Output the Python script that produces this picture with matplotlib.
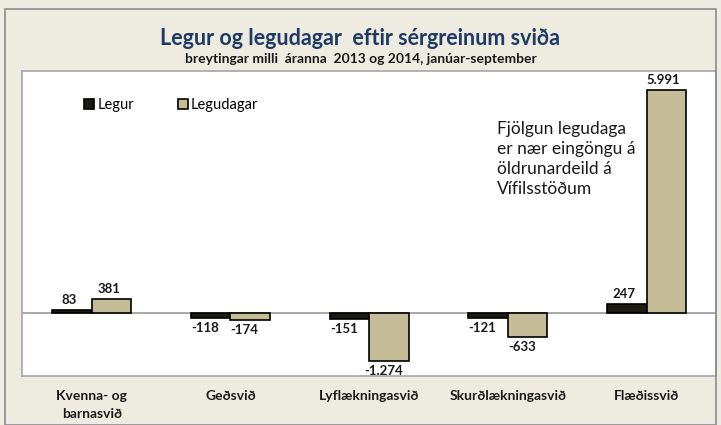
import matplotlib.pyplot as plt
import numpy as np
from matplotlib.patches import Rectangle

plt.rcParams['font.family'] = ['Lato', 'DejaVu Sans']

# Data
categories = ['Kvenna- og\nbarnasvið', 'Geðsvið', 'Lyflækningasvið',
              'Skurðlækningasvið', 'Flæðissvið']
legur = [83, -118, -151, -121, 247]
legudagar = [381, -174, -1274, -633, 5991]
legur_labels = ['83', '-118', '-151', '-121', '247']
legudagar_labels = ['381', '-174', '-1.274', '-633', '5.991']

bg = '#EEECE1'
col_legur = '#1D1B10'
col_legudagar = '#C4BD97'

fig = plt.figure(figsize=(7.21, 4.25), dpi=100, facecolor=bg)
# outer chart border
fig.patches.append(Rectangle((0.007, 0.0), 0.986, 0.98, transform=fig.transFigure,
                             fill=False, edgecolor='#8C8C8C', linewidth=1.2))

ax = fig.add_axes([0.031, 0.115, 0.962, 0.718])
ax.set_facecolor('white')
for s in ax.spines.values():
    s.set_color('#A6A6A6')
    s.set_linewidth(1.2)

x = np.arange(len(categories))
w = 0.285
ax.bar(x - w / 2, legur, w, color=col_legur, edgecolor='black', linewidth=1.2, label='Legur')
ax.bar(x + w / 2, legudagar, w, color=col_legudagar, edgecolor='black', linewidth=1.2,
       label='Legudagar')
ax.axhline(0, color='#9A9A9A', linewidth=1.2, zorder=0)

ax.set_xlim(-0.5, 4.5)
ax.set_ylim(-1690, 6500)
ax.set_yticks([])
ax.set_xticks([])

# value labels
lab_kw = dict(fontsize=9.5, fontweight='bold', color='#1A1A1A', ha='center')
for i in range(len(categories)):
    for xi, v, t in [(x[i] - w / 2, legur[i], legur_labels[i]),
                     (x[i] + w / 2, legudagar[i], legudagar_labels[i])]:
        if v >= 0:
            ax.annotate(t, (xi, v), xytext=(-2, 3), textcoords='offset points',
                        va='bottom', **lab_kw)
        else:
            ax.annotate(t, (xi, v), xytext=(-4, -3), textcoords='offset points',
                        va='top', **lab_kw)

# category labels below plot area
for i, c in enumerate(categories):
    ax.text(x[i], -2050, c, ha='center', va='top', fontsize=10, fontweight='bold',
            color='#1A1A1A', linespacing=1.6, clip_on=False)

# legend
ax.legend(loc='upper left', bbox_to_anchor=(0.07, 0.955), ncol=2, frameon=False,
          fontsize=10.5, handlelength=0.7, handleheight=0.7, handletextpad=0.2,
          columnspacing=3.0)

# annotation
ax.text(2.92, 5150, 'Fjölgun legudaga\ner nær eingöngu á\nöldrunardeild á\nVífilsstöðum',
        fontsize=12.5, color='#1A1A1A', va='top', ha='left', linespacing=1.3)

fig.text(0.5, 0.91, 'Legur og legudagar  eftir sérgreinum sviða', ha='center', va='center',
         fontsize=15.5, fontweight='bold', color='#1F3B64')
fig.text(0.5, 0.862, 'breytingar milli  áranna  2013 og 2014, janúar-september', ha='center',
         va='center', fontsize=10, fontweight='bold', color='#1A1A1A')

fig.savefig('out.png', dpi=100, facecolor=bg)
